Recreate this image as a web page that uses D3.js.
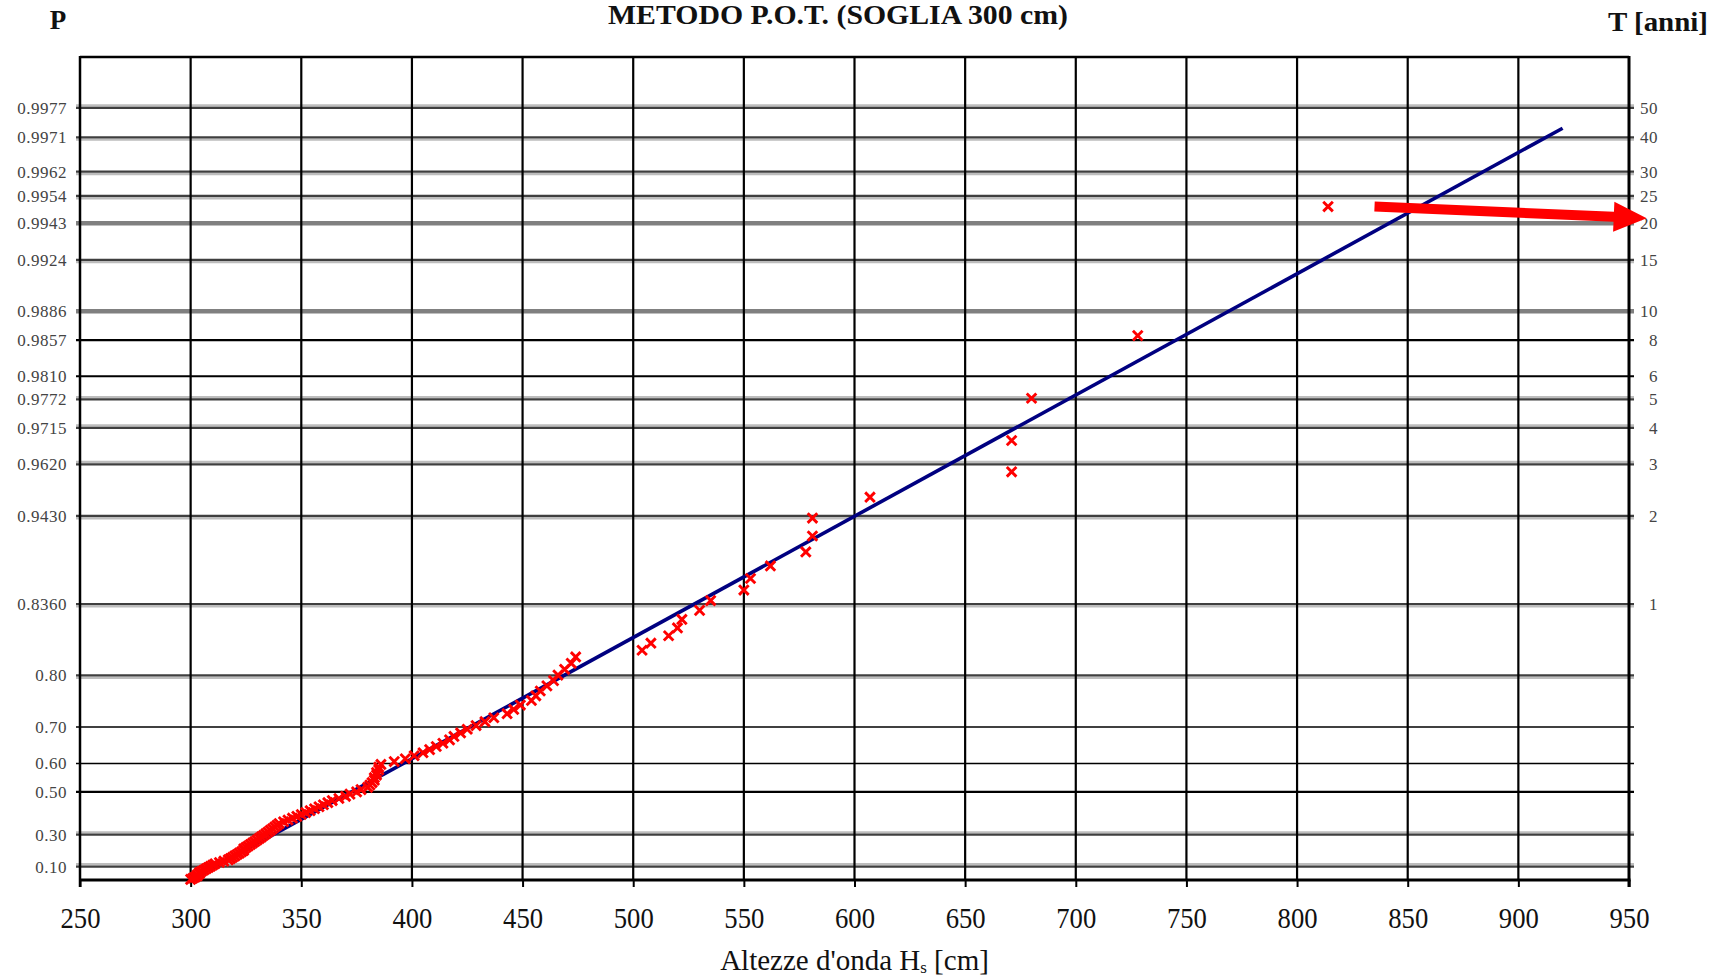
<!DOCTYPE html>
<html><head><meta charset="utf-8">
<script src="https://cdn.jsdelivr.net/npm/d3@7"></script>
<style>body{margin:0;background:#fff;} svg{display:block;}</style>
</head><body>
<svg id="chart" width="1723" height="979"></svg>
<script>
// ---------- DATA ----------
const chartTitle = "METODO P.O.T. (SOGLIA 300 cm)";
const xTicks = [250,300,350,400,450,500,550,600,650,700,750,800,850,900,950];
// tick positions on the probability axis (the "0.8360" label sits where P = 0.886)
const pTicks = [0.9977,0.9971,0.9962,0.9954,0.9943,0.9924,0.9886,0.9857,0.9810,0.9772,0.9715,0.9620,0.9430,0.8860,0.80,0.70,0.60,0.50,0.30,0.10];
const pTickLabels = ["0.9977","0.9971","0.9962","0.9954","0.9943","0.9924","0.9886","0.9857","0.9810","0.9772","0.9715","0.9620","0.9430","0.8360","0.80","0.70","0.60","0.50","0.30","0.10"];
const tTickP = [0.9977,0.9971,0.9962,0.9954,0.9943,0.9924,0.9886,0.9857,0.9810,0.9772,0.9715,0.9620,0.9430,0.8860];
const tTickLabels = ["50","40","30","25","20","15","10","8","6","5","4","3","2","1"];
// observed wave heights (cm) and their non-exceedance probabilities
const obsH = [300,301,302,303,303,304,304,305,306,307,
              308,309,310,311,313,315,317,318,319,320,
              321,322,323,324,324,325,326,327,328,329,
              330,331,332,333,334,335,336,337,338,339,
              340,342,344,346,348,350,352,354,356,358,
              360,362,364,367,370,372,375,377,380,381,
              382,383,383,384,384,385,385,386,392,397,
              401,405,408,411,414,417,419,422,425,429,
              433,437,443,446,449,454,456,458,461,464,
              466,469,472,474,504,508,516,520,522,530,
              535,550,553,562,578,581,581,607,671,671,
              680,728,814];
const obsP = [0.0050,0.0138,0.0226,0.0315,0.0403,0.0492,0.0580,0.0668,0.0757,0.0845,
              0.0934,0.1022,0.1110,0.1199,0.1287,0.1376,0.1464,0.1552,0.1641,0.1729,
              0.1818,0.1906,0.1994,0.2083,0.2171,0.2260,0.2348,0.2436,0.2525,0.2613,
              0.2702,0.2790,0.2878,0.2967,0.3055,0.3144,0.3232,0.3320,0.3409,0.3497,
              0.3586,0.3674,0.3762,0.3851,0.3939,0.4028,0.4116,0.4204,0.4293,0.4381,
              0.4470,0.4558,0.4646,0.4735,0.4823,0.4912,0.5000,0.5088,0.5177,0.5265,
              0.5354,0.5442,0.5530,0.5619,0.5707,0.5796,0.5884,0.5972,0.6061,0.6149,
              0.6238,0.6326,0.6414,0.6503,0.6591,0.6680,0.6768,0.6856,0.6945,0.7033,
              0.7122,0.7210,0.7298,0.7387,0.7475,0.7564,0.7652,0.7740,0.7829,0.7917,
              0.8006,0.8094,0.8182,0.8271,0.8359,0.8448,0.8536,0.8624,0.8713,0.8801,
              0.8890,0.8978,0.9067,0.9155,0.9243,0.9332,0.9420,0.9508,0.9597,0.9685,
              0.9774,0.9862,0.9950];
// fitted exponential distribution (straight line on this paper)
const fitH = [300, 920];
const fitP = [0.0, 0.9973];
// annotation arrow (from the largest event towards T = 20 years)
const arrowH = [835, 958];
const arrowP = [0.9950, 0.99452];

// ---------- PRESENTATION ----------
const gridLook = ["LD","DL","DL","DL","M","DL","M","K","K","LD","LD","LD","DL","DL","DL","k","k","K","LD","LD"];
const serif = "'Liberation Serif','Times New Roman',serif";
const plot = {left:80, right:1629, top:57, bottom:880};

const svg = d3.select("#chart");
svg.append("rect").attr("width",1723).attr("height",979).attr("fill","#fff");

const x = d3.scaleLinear().domain([250,950]).range([plot.left, plot.right]);
// exponential probability paper: position linear in -ln(1-P) -> log scale on (1-P)
const q = d3.scaleLog().domain([1, 0.0015415]).range([plot.bottom, plot.top]);
const y = p => q(1 - p);

// horizontal grid
const grid = svg.append("g");
pTicks.forEach((p,i) => {
  const yy = y(p), s = gridLook[i];
  const ln = (dy, color, w) => grid.append("line")
      .attr("x1", plot.left - 4).attr("x2", plot.right + 5)
      .attr("y1", yy + dy).attr("y2", yy + dy)
      .attr("stroke", color).attr("stroke-width", w);
  if (s === "DL") { ln(2.3, "#bdbdbd", 2.4); ln(0, "#3f3f3f", 2.2); }
  else if (s === "LD") { ln(-2.3, "#bdbdbd", 2.4); ln(0, "#3f3f3f", 2.2); }
  else if (s === "M") { ln(0, "#808080", 4.5); }
  else if (s === "K") { ln(0, "#000", 2.2); }
  else { ln(0, "#000", 1.6); }
});

// vertical grid
svg.append("g").selectAll("line").data(xTicks.slice(1,-1)).join("line")
  .attr("x1", d => x(d)).attr("x2", d => x(d))
  .attr("y1", plot.top).attr("y2", plot.bottom)
  .attr("stroke", "#000").attr("stroke-width", 2.2);

// frame
const fr = svg.append("g").attr("stroke","#000");
fr.append("line").attr("x1",plot.left).attr("x2",plot.right).attr("y1",plot.top).attr("y2",plot.top).attr("stroke-width",2.5);
fr.append("line").attr("x1",plot.left).attr("x2",plot.right+1.5).attr("y1",plot.bottom).attr("y2",plot.bottom).attr("stroke-width",3);
fr.append("line").attr("x1",plot.left).attr("x2",plot.left).attr("y1",plot.top-1).attr("y2",plot.bottom+7).attr("stroke-width",2.5);
fr.append("line").attr("x1",plot.right).attr("x2",plot.right).attr("y1",plot.top-1).attr("y2",plot.bottom+7).attr("stroke-width",3);

// x axis
const gx = svg.append("g").attr("transform",`translate(0,${plot.bottom})`)
  .call(d3.axisBottom(x).tickValues(xTicks).tickSize(7).tickPadding(20).tickFormat(d => String(d)));
gx.select(".domain").remove();
gx.selectAll(".tick line").attr("stroke","#000").attr("stroke-width",2);
gx.selectAll(".tick text").attr("font-family",serif).attr("font-size",30).attr("fill","#111")
  .attr("textLength",40).attr("lengthAdjust","spacingAndGlyphs");

// left P axis
const gl = svg.append("g").attr("transform",`translate(${plot.left},0)`)
  .call(d3.axisLeft(q).tickValues(pTicks.map(p => 1 - p)).tickSize(0).tickPadding(13)
        .tickFormat((d,i) => pTickLabels[i]));
gl.select(".domain").remove();
gl.selectAll(".tick text").attr("font-family",serif).attr("font-size",17).attr("fill","#444")
  .attr("letter-spacing","0.5px");

// right T axis
const gr = svg.append("g").attr("transform",`translate(${plot.right},0)`)
  .call(d3.axisRight(q).tickValues(tTickP.map(p => 1 - p)).tickSize(0).tickPadding(0)
        .tickFormat((d,i) => tTickLabels[i]));
gr.select(".domain").remove();
gr.selectAll(".tick text").attr("font-family",serif).attr("font-size",17).attr("fill","#444")
  .attr("text-anchor","end").attr("x",29).attr("letter-spacing","0.5px");

// fitted line
svg.append("path")
  .datum(fitH.map((h,i) => [h, fitP[i]]))
  .attr("d", d3.line().x(d => x(d[0])).y(d => y(d[1])))
  .attr("fill","none").attr("stroke","#000080").attr("stroke-width",3.6);

// observed points (red crosses)
svg.append("g").selectAll("path").data(obsH.map((h,i) => [h, obsP[i]])).join("path")
  .attr("transform", d => `translate(${x(d[0])},${y(d[1])})`)
  .attr("d","M-4.8,-4.8L4.8,4.8M-4.8,4.8L4.8,-4.8")
  .attr("stroke","#ff0000").attr("stroke-width",2.9).attr("fill","none");

// arrow
(function(){
  const sx = x(arrowH[0]), sy = y(arrowP[0]), tx = x(arrowH[1]), ty = y(arrowP[1]);
  const L = Math.hypot(tx-sx, ty-sy), ux = (tx-sx)/L, uy = (ty-sy)/L, nx = -uy, ny = ux;
  const hl = 33, hw = 15, sw = 5;
  const bx = tx - ux*hl, by = ty - uy*hl;
  const pts = [[sx+nx*sw, sy+ny*sw],[bx+nx*sw, by+ny*sw],[bx+nx*hw, by+ny*hw],[tx,ty],
               [bx-nx*hw, by-ny*hw],[bx-nx*sw, by-ny*sw],[sx-nx*sw, sy-ny*sw]];
  svg.append("path").attr("d", d3.line()(pts) + "Z").attr("fill","#ff0000");
})();

// texts
svg.append("text").attr("x",838).attr("y",24).attr("text-anchor","middle")
  .attr("font-family",serif).attr("font-size",27).attr("font-weight","bold").attr("fill","#111")
  .attr("textLength",460).attr("lengthAdjust","spacingAndGlyphs").text(chartTitle);
svg.append("text").attr("x",58).attr("y",29).attr("text-anchor","middle")
  .attr("font-family",serif).attr("font-size",27).attr("font-weight","bold").attr("fill","#111").text("P");
svg.append("text").attr("x",1658).attr("y",31).attr("text-anchor","middle")
  .attr("font-family",serif).attr("font-size",27).attr("font-weight","bold").attr("fill","#111")
  .attr("textLength",100).attr("lengthAdjust","spacingAndGlyphs").text("T [anni]");
const xt = svg.append("text").attr("x",(plot.left+plot.right)/2).attr("y",970).attr("text-anchor","middle")
  .attr("font-family",serif).attr("font-size",29).attr("fill","#111");
xt.append("tspan").text("Altezze d'onda H");
xt.append("tspan").attr("font-size",17).attr("dy",3).text("s");
xt.append("tspan").attr("dy",-3).text(" [cm]");
</script>
</body></html>
